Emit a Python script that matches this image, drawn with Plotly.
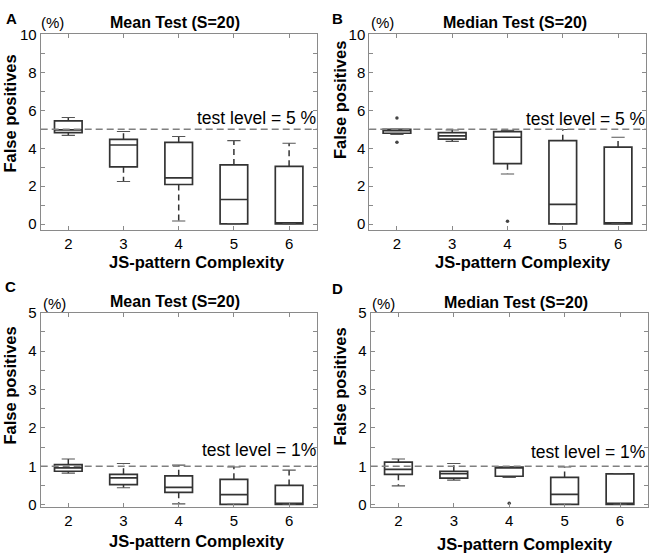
import plotly.graph_objects as go

# ---------------- data ----------------
cats = [2, 3, 4, 5, 6]

# Panel A: Mean Test, test level 5 %
A_hi  = [5.62, 4.88, 4.62, 4.40, 4.26]
A_q3  = [5.44, 4.47, 4.31, 3.12, 3.05]
A_med = [4.97, 4.17, 2.44, 1.30, 0.04]
A_q1  = [4.82, 3.02, 2.09, 0.02, 0.02]
A_lo  = [4.68, 2.25, 0.17, 0.02, 0.02]
A_out_x, A_out_y = [], []

# Panel B: Median Test, test level 5 %
B_hi  = [5.00, 4.96, 4.94, 4.99, 4.58]
B_q3  = [4.99, 4.82, 4.87, 4.40, 4.06]
B_med = [4.92, 4.65, 4.58, 1.04, 0.02]
B_q1  = [4.79, 4.48, 3.19, 0.02, 0.02]
B_lo  = [4.73, 4.36, 2.64, 0.02, 0.02]
B_out_x = [2, 2, 4]
B_out_y = [5.59, 4.31, 0.15]

# Panel C: Mean Test, test level 1 %
C_hi  = [1.19, 1.07, 1.03, 0.98, 0.90]
C_q3  = [1.04, 0.79, 0.75, 0.66, 0.50]
C_med = [0.96, 0.70, 0.45, 0.26, 0.01]
C_q1  = [0.87, 0.52, 0.32, 0.01, 0.01]
C_lo  = [0.82, 0.44, 0.02, 0.01, 0.01]
C_out_x, C_out_y = [], []

# Panel D: Median Test, test level 1 %
D_hi  = [1.19, 1.07, 0.99, 0.98, 0.80]
D_q3  = [1.11, 0.87, 0.98, 0.71, 0.80]
D_med = [0.92, 0.81, 0.96, 0.27, 0.01]
D_q1  = [0.79, 0.69, 0.74, 0.01, 0.01]
D_lo  = [0.49, 0.64, 0.71, 0.01, 0.01]
D_out_x = [4]
D_out_y = [0.04]

titles = ["Mean Test (S=20)", "Median Test (S=20)", "Mean Test (S=20)", "Median Test (S=20)"]
letters = ["A", "B", "C", "D"]
test_levels = [5, 5, 1, 1]
test_labels = ["test level = 5 %", "test level = 5 %", "test level = 1%", "test level = 1%"]
y_ticks_big = [0, 1, 2, 3, 4, 5, 6, 7, 8, 9, 10]
y_ticks_small = [0, 0.5, 1, 1.5, 2, 2.5, 3, 3.5, 4, 4.5, 5]
x_title = "JS-pattern Complexity"
y_title = "False positives"
unit = "(%)"

panels = [
    (A_lo, A_q1, A_med, A_q3, A_hi, A_out_x, A_out_y),
    (B_lo, B_q1, B_med, B_q3, B_hi, B_out_x, B_out_y),
    (C_lo, C_q1, C_med, C_q3, C_hi, C_out_x, C_out_y),
    (D_lo, D_q1, D_med, D_q3, D_hi, D_out_x, D_out_y),
]

# ---------------- layout geometry (pixels) ----------------
W, H = 650, 559
def px(x): return x / W
def py(y): return 1 - y / H

x_domains = [(40.7, 316.7), (369.3, 645.7), (40.7, 316.7), (370.7, 647.7)]
y_domains = [(26, 227), (26, 227), (312, 511.3), (312, 511.3)]

BOX = "#333333"
AX = "#8a8a8a"
FONT = "Liberation Sans, Arial, Helvetica, sans-serif"

fig = go.Figure()
box_w = 0.5
cap_half = 0.12

for i, (lo, q1, med, q3, hi, ox, oy) in enumerate(panels):
    xa = "x" if i == 0 else f"x{i+1}"
    ya = "y" if i == 0 else f"y{i+1}"
    fig.add_trace(go.Box(
        x=cats, q1=q1, median=med, q3=q3, lowerfence=q1, upperfence=q3,
        width=box_w, whiskerwidth=0, boxpoints=False,
        fillcolor="rgba(0,0,0,0)", line=dict(color=BOX, width=1.7),
        xaxis=xa, yaxis=ya, showlegend=False, hoverinfo="skip"))
    # dashed whiskers
    wx, wy = [], []
    cx, cy = [], []
    for c, l, a, b, h in zip(cats, lo, q1, q3, hi):
        if h > b:
            wx += [c, c, None]; wy += [b, h, None]
        if l < a:
            wx += [c, c, None]; wy += [a, l, None]
        cx += [c - cap_half, c + cap_half, None, c - cap_half, c + cap_half, None]
        cy += [h, h, None, l, l, None]
    fig.add_trace(go.Scatter(x=wx, y=wy, mode="lines",
                             line=dict(color=BOX, width=1.5, dash="6px,4px"),
                             xaxis=xa, yaxis=ya, showlegend=False, hoverinfo="skip"))
    fig.add_trace(go.Scatter(x=cx, y=cy, mode="lines",
                             line=dict(color="#555555", width=1.1),
                             xaxis=xa, yaxis=ya, showlegend=False, hoverinfo="skip"))
    if ox:
        fig.add_trace(go.Scatter(x=ox, y=oy, mode="markers",
                                 marker=dict(color="#444444", size=3.5),
                                 xaxis=xa, yaxis=ya, showlegend=False, hoverinfo="skip"))
    # reference test level line
    fig.add_shape(type="line", xref=f"{xa} domain", yref=ya, x0=0, x1=1,
                  y0=test_levels[i], y1=test_levels[i],
                  line=dict(color="#808080", width=1.3, dash="7px,4px"))

    big = i < 2
    yt = y_ticks_big if big else y_ticks_small
    ytext = [str(int(v)) if (v % 2 == 0 if big else float(v).is_integer()) else "" for v in yt]
    axis_common = dict(showline=True, linecolor=AX, linewidth=1, mirror="ticks",
                       ticks="inside", ticklen=4, tickcolor=AX, showgrid=False,
                       zeroline=False, tickfont=dict(size=15, color="black", family=FONT))
    xkey = "xaxis" if i == 0 else f"xaxis{i+1}"
    ykey = "yaxis" if i == 0 else f"yaxis{i+1}"
    fig.update_layout(**{
        xkey: dict(domain=[px(x_domains[i][0]), px(x_domains[i][1])], anchor=ya,
                   range=[1.5, 6.5], tickvals=cats, ticktext=[str(c) for c in cats],
                   **axis_common),
        ykey: dict(domain=[py(y_domains[i][1]), py(y_domains[i][0])], anchor=xa,
                   range=[-0.3, 10] if big else [-0.05, 5], tickvals=yt, ticktext=ytext,
                   **axis_common),
    })

# ---------------- annotations ----------------
ann = []
def add(text, x, y, size, bold=False, xanchor="center", angle=0):
    ann.append(dict(text=f"<b>{text}</b>" if bold else text, x=px(x), y=py(y),
                    xref="paper", yref="paper", showarrow=False, xanchor=xanchor,
                    yanchor="middle", textangle=angle,
                    font=dict(size=size, color="black", family=FONT)))

title_pos = [(175, 14), (514.5, 14), (175, 301), (516, 302)]
unit_pos = [(53, 14), (382.5, 14), (54, 303), (383, 303)]
letter_pos = [(11, 10), (337, 10), (10, 285), (337, 287)]
xt_pos = [(196.5, 260), (522.5, 260), (196.5, 547), (525, 550)]
yt_pos = [(10, 107.5), (340, 93.5), (10, 387), (340, 388)]
tl_pos = [(318, 112), (647, 113), (318, 453.5), (647, 455)]

for i in range(4):
    add(titles[i], *title_pos[i], 16, bold=True)
    add(unit, *unit_pos[i], 15)
    add(letters[i], *letter_pos[i], 15, bold=True)
    add(x_title, *xt_pos[i], 16.5, bold=True)
    add(y_title, *yt_pos[i], 16.5, bold=True, angle=-90)
    add(test_labels[i], *tl_pos[i], 17.5, xanchor="right")

fig.update_layout(width=W, height=H, margin=dict(l=0, r=0, t=0, b=0),
                  paper_bgcolor="white", plot_bgcolor="white",
                  annotations=ann, showlegend=False)

fig.write_html("out.html", config={"displayModeBar": False},
               post_script="document.body.style.margin='0';document.body.style.overflow='hidden';")
